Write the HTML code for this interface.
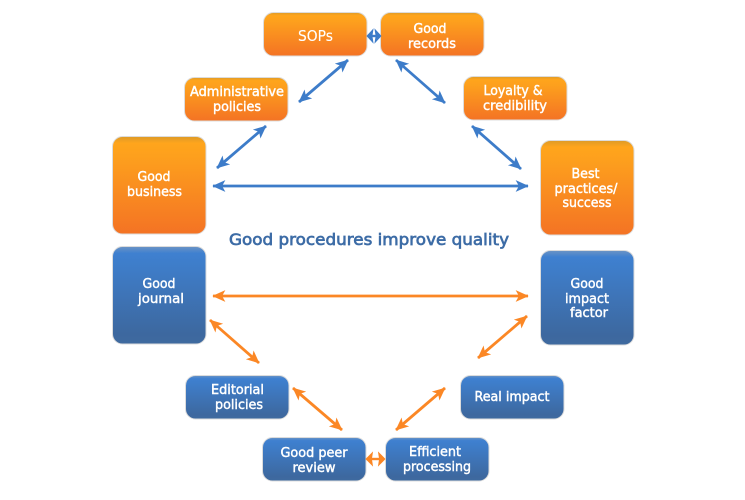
<!DOCTYPE html>
<html><head><meta charset="utf-8"><style>
html,body{margin:0;padding:0;background:#fff}
svg{display:block}
text{font-family:"DejaVu Sans",sans-serif;font-weight:normal;text-anchor:middle;fill:#fff;stroke:#fff;stroke-width:.45px;font-size:13px}
</style></head><body>
<svg width="745" height="500" viewBox="0 0 745 500" xmlns="http://www.w3.org/2000/svg">
<defs>
<linearGradient id="o" x1="0" y1="0" x2="0" y2="1">
<stop offset="0" stop-color="#dc9a28"/><stop offset=".07" stop-color="#ffa51c"/><stop offset=".2" stop-color="#fda01d"/><stop offset="1" stop-color="#f47324"/></linearGradient>
<linearGradient id="b" x1="0" y1="0" x2="0" y2="1">
<stop offset="0" stop-color="#6c94c4"/><stop offset=".07" stop-color="#3f80d0"/><stop offset=".2" stop-color="#3e7dc9"/><stop offset=".9" stop-color="#3d689f"/><stop offset="1" stop-color="#3f6a9f"/></linearGradient>
<marker id="mb" viewBox="0 0 10 10" refX="9.5" refY="5" markerWidth="13" markerHeight="13" markerUnits="userSpaceOnUse" orient="auto-start-reverse"><path d="M0 .5L10 5L0 9.5L2.5 5Z" fill="#3d7cc9"/></marker>
<marker id="mo" viewBox="0 0 10 10" refX="9.5" refY="5" markerWidth="13" markerHeight="13" markerUnits="userSpaceOnUse" orient="auto-start-reverse"><path d="M0 .5L10 5L0 9.5L2.5 5Z" fill="#fb8725"/></marker>
</defs>
<g stroke="#dcdcdc" stroke-width="1">
<rect x="263.5" y="12.5" width="103.5" height="43.5" rx="10" fill="url(#o)"/>
<rect x="380.5" y="12.5" width="103.5" height="43.5" rx="10" fill="url(#o)"/>
<rect x="184.5" y="77.5" width="103.5" height="43.5" rx="10" fill="url(#o)"/>
<rect x="463.5" y="76.5" width="103.5" height="43.5" rx="10" fill="url(#o)"/>
<rect x="112.5" y="136.5" width="93.5" height="97.5" rx="10" fill="url(#o)"/>
<rect x="540.5" y="140.5" width="93.5" height="94.5" rx="10" fill="url(#o)"/>
<rect x="112.5" y="246.5" width="93.5" height="97.5" rx="10" fill="url(#b)"/>
<rect x="540.5" y="250.5" width="93.5" height="94.500" rx="10" fill="url(#b)"/>
<rect x="185.5" y="375.5" width="103.5" height="43.5" rx="10" fill="url(#b)"/>
<rect x="460.5" y="375.5" width="103.5" height="43.5" rx="10" fill="url(#b)"/>
<rect x="262.5" y="437.5" width="103.5" height="43.5" rx="10" fill="url(#b)"/>
<rect x="385.5" y="437.5" width="103.5" height="43.5" rx="10" fill="url(#b)"/>
</g>
<g stroke="#3d7cc9" stroke-width="2.8" fill="none">
<line x1="299" y1="102" x2="348" y2="60" marker-start="url(#mb)" marker-end="url(#mb)"/>
<line x1="217" y1="168" x2="266" y2="126" marker-start="url(#mb)" marker-end="url(#mb)"/>
<line x1="213" y1="186" x2="528" y2="186" marker-start="url(#mb)" marker-end="url(#mb)"/>
<line x1="396" y1="60" x2="445" y2="103" marker-start="url(#mb)" marker-end="url(#mb)"/>
<line x1="472" y1="126" x2="521" y2="169" marker-start="url(#mb)" marker-end="url(#mb)"/>
</g>
<path d="M367 36L373 29.500L372 36L373 42.500ZM381 36L375 29.500L376 36L375 42.500Z" fill="#3d7cc9" stroke="#3d7cc9" stroke-width=".8"/>
<line x1="370" y1="36" x2="378" y2="36" stroke="#3d7cc9" stroke-width="2.4"/>
<g stroke="#fb8725" stroke-width="2.8" fill="none">
<line x1="213" y1="296" x2="528" y2="296" marker-start="url(#mo)" marker-end="url(#mo)"/>
<line x1="210" y1="320" x2="259" y2="363" marker-start="url(#mo)" marker-end="url(#mo)"/>
<line x1="293" y1="388" x2="342" y2="430" marker-start="url(#mo)" marker-end="url(#mo)"/>
<line x1="396" y1="430" x2="445" y2="388" marker-start="url(#mo)" marker-end="url(#mo)"/>
<line x1="478" y1="358" x2="527" y2="316" marker-start="url(#mo)" marker-end="url(#mo)"/>
</g>
<path d="M366 459L372.500 452.500L371.500 459L372.500 465.500ZM385 459L378.500 452.500L379.500 459L378.500 465.500Z" fill="#fb8725" stroke="#fb8725" stroke-width=".8"/>
<line x1="369" y1="459" x2="382" y2="459" stroke="#fb8725" stroke-width="2.4"/>
<text x="315.5" y="41" textLength="35" lengthAdjust="spacingAndGlyphs" style="font-size:15px;stroke-width:.1px">SOPs</text>
<text x="430" y="33" textLength="33" lengthAdjust="spacingAndGlyphs">Good</text>
<text x="432" y="48" textLength="48" lengthAdjust="spacingAndGlyphs">records</text>
<text x="237" y="96" textLength="94" lengthAdjust="spacingAndGlyphs">Administrative</text>
<text x="237" y="111" textLength="48" lengthAdjust="spacingAndGlyphs">policies</text>
<text x="513" y="95" textLength="59" lengthAdjust="spacingAndGlyphs">Loyalty &amp;</text>
<text x="515" y="110" textLength="64" lengthAdjust="spacingAndGlyphs">credibility</text>
<text x="154" y="181" textLength="33" lengthAdjust="spacingAndGlyphs">Good</text>
<text x="154.500" y="196" textLength="55" lengthAdjust="spacingAndGlyphs">business</text>
<text x="585.500" y="178" textLength="28" lengthAdjust="spacingAndGlyphs">Best</text>
<text x="586" y="193" textLength="63" lengthAdjust="spacingAndGlyphs">practices/</text>
<text x="587" y="207" textLength="49" lengthAdjust="spacingAndGlyphs">success</text>
<text x="159" y="288" textLength="33" lengthAdjust="spacingAndGlyphs">Good</text>
<text x="161" y="303" textLength="46" lengthAdjust="spacingAndGlyphs">journal</text>
<text x="587" y="288" textLength="33" lengthAdjust="spacingAndGlyphs">Good</text>
<text x="587" y="303" textLength="44" lengthAdjust="spacingAndGlyphs">impact</text>
<text x="589" y="317" textLength="38" lengthAdjust="spacingAndGlyphs">factor</text>
<text x="237.500" y="394" textLength="53" lengthAdjust="spacingAndGlyphs">Editorial</text>
<text x="239" y="409" textLength="48" lengthAdjust="spacingAndGlyphs">policies</text>
<text x="512" y="401" textLength="75" lengthAdjust="spacingAndGlyphs">Real impact</text>
<text x="314" y="457" textLength="67" lengthAdjust="spacingAndGlyphs">Good peer</text>
<text x="314" y="472" textLength="43" lengthAdjust="spacingAndGlyphs">review</text>
<text x="435" y="456" textLength="52" lengthAdjust="spacingAndGlyphs">Efficient</text>
<text x="437" y="471" textLength="68" lengthAdjust="spacingAndGlyphs">processing</text>
<text x="369" y="245" textLength="280" lengthAdjust="spacingAndGlyphs" style="fill:#3d6ca6;stroke:#3d6ca6;stroke-width:.7px;font-size:16px">Good procedures improve quality</text>
</svg>
</body></html>
